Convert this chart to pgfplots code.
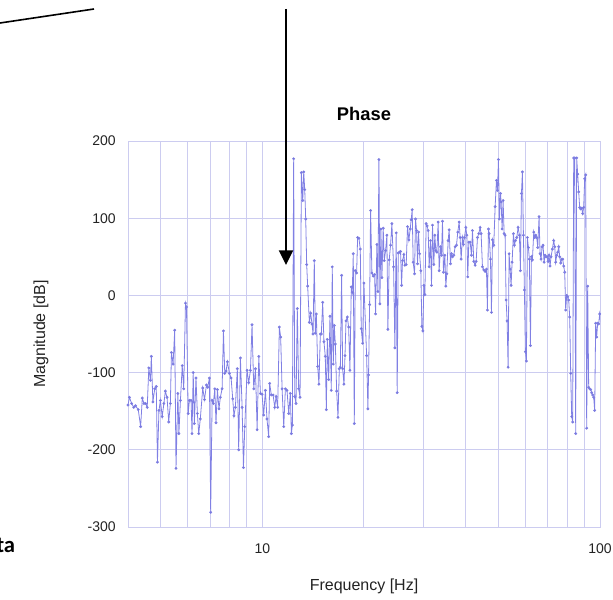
\documentclass[border=0pt]{standalone}
\usepackage{pgfplots}
\pgfplotsset{compat=1.18}
\usepackage{pgfplotstable}
\usepackage{fontspec}
\setmainfont{Liberation Sans}
\newfontfamily\callout{Carlito}
\usetikzlibrary{arrows.meta}
\definecolor{gridc}{RGB}{204,204,240}
\definecolor{linec}{RGB}{128,128,228}
\definecolor{markc}{RGB}{70,70,165}
\definecolor{txt}{RGB}{35,35,35}

\pgfplotstableread{
f v
4.00 -142
4.04 -132
4.10 -140
4.16 -145
4.21 -143
4.29 -148
4.36 -170
4.41 -133
4.46 -140
4.51 -140
4.56 -145
4.61 -94
4.66 -110
4.69 -79
4.74 -138
4.80 -121
4.85 -118
4.89 -216
4.94 -149
4.99 -136
5.05 -157
5.11 -140
5.16 -124
5.22 -132
5.28 -164
5.34 -140
5.38 -74
5.44 -89
5.50 -45
5.55 -224
5.62 -127
5.66 -179
5.72 -136
5.79 -91
5.85 -121
5.92 -10
5.96 -15
6.03 -153
6.08 -136
6.15 -136
6.19 -179
6.24 -100
6.29 -166
6.36 -107
6.42 -153
6.48 -179
6.55 -160
6.66 -120
6.74 -135
6.83 -116
6.89 -119
6.97 -107
7.03 -281
7.10 -136
7.16 -140
7.23 -121
7.29 -165
7.36 -122
7.44 -147
7.51 -132
7.60 -121
7.67 -46
7.74 -101
7.81 -98
7.88 -86
7.99 -101
8.08 -107
8.17 -134
8.24 -156
8.32 -145
8.43 -95
8.51 -200
8.61 -81
8.71 -145
8.79 -223
8.87 -170
9.01 -97
9.11 -113
9.22 -97
9.32 -38
9.43 -121
9.54 -95
9.65 -174
9.76 -79
9.87 -127
9.98 -128
10.09 -155
10.21 -123
10.32 -160
10.44 -183
10.51 -114
10.63 -129
10.76 -129
10.88 -145
10.98 -131
11.10 -145
11.23 -41
11.33 -54
11.44 -121
11.57 -170
11.70 -121
11.83 -123
11.97 -153
12.10 -127
12.19 -179
12.27 -168
12.38 177
12.47 -131
12.58 -140
12.69 -17
12.81 -121
12.93 -132
13.05 159
13.17 123
13.26 160
13.35 137
13.44 99
13.53 40
13.62 12
13.78 -35
13.90 -23
14.03 -37
14.13 -50
14.25 45
14.35 -49
14.45 -24
14.58 -92
14.71 -115
14.85 -50
14.95 -50
15.09 -9
15.22 -60
15.36 -79
15.47 -148
15.57 -57
15.72 -109
15.86 -27
16.00 -123
16.11 37
16.22 -89
16.33 -39
16.45 -63
16.60 -124
16.75 -158
16.90 -95
17.02 -93
17.17 26
17.29 -95
17.45 -115
17.57 -78
17.69 -33
17.85 -28
18.01 -41
18.17 -97
18.34 11
18.46 4
18.59 54
18.72 -166
18.85 32
19.02 29
19.15 75
19.32 74
19.50 60
19.63 -43
19.81 -62
19.99 16
20.36 -78
20.54 -147
20.63 -103
20.78 -12
20.92 110
21.11 29
21.30 25
21.50 27
21.64 -24
21.84 66
21.99 5
22.14 176
22.29 -11
22.44 86
22.60 23
22.80 87
22.96 45
23.17 58
23.38 78
23.54 -44
23.75 46
23.97 65
24.19 93
24.47 37
24.69 -68
24.91 81
25.08 -126
25.26 55
25.49 56
25.66 57
25.84 13
26.01 45
26.25 53
26.43 39
26.67 40
26.91 89
27.16 72
27.41 86
27.59 98
27.78 111
27.97 43
28.23 28
28.42 99
28.62 84
28.81 41
29.01 82
29.21 54
29.47 32
29.67 -40
29.88 -46
30.08 13
30.29 1
30.56 93
30.77 90
30.98 84
31.19 37
31.48 71
31.69 13
31.91 91
32.20 40
32.42 78
32.64 58
32.87 56
33.17 95
33.39 32
33.70 63
33.93 52
34.16 96
34.39 30
34.71 52
34.94 12
35.18 28
35.50 71
35.75 85
36.07 41
36.32 54
36.57 50
36.90 52
37.24 63
37.58 65
37.92 82
38.27 95
38.53 75
38.79 47
39.15 75
39.41 66
39.68 75
40.05 88
40.32 78
40.59 24
40.87 69
41.25 69
41.62 52
41.91 84
42.29 44
42.67 39
42.97 44
43.36 75
43.75 80
44.15 88
44.45 80
44.86 37
45.27 33
45.68 31
46.10 34
46.41 -19
46.73 86
46.95 80
47.38 47
47.70 -22
48.03 72
48.46 65
48.91 115
49.35 149
49.69 136
50.03 176
50.37 99
50.72 132
50.95 121
51.30 86
51.65 123
52.00 80
52.35 78
52.71 -6
53.07 -33
53.44 -93
53.80 54
54.17 34
54.54 13
54.91 43
55.41 80
55.79 65
56.17 71
56.69 75
57.20 88
57.72 78
58.12 32
58.52 132
58.92 160
59.32 78
59.72 7
60.13 -73
60.54 -85
60.96 75
61.37 62
61.79 47
62.22 -65
62.64 50
63.07 46
63.65 82
64.08 75
64.52 78
64.96 75
65.40 62
66.00 102
66.45 54
66.90 47
67.36 63
67.82 65
68.29 43
68.75 52
69.22 50
69.70 50
70.17 44
70.65 52
71.13 38
71.62 50
72.27 60
72.93 71
73.43 63
73.93 43
74.44 52
74.95 56
75.46 63
75.98 50
76.50 42
77.02 47
77.55 47
78.08 38
78.61 30
79.15 -19
79.69 0
80.23 -2
80.78 -6
81.33 -28
81.89 -101
82.45 -157
83.01 -164
83.58 178
84.15 178
84.72 -179
85.30 178
85.89 157
86.47 134
87.07 114
87.66 112
88.26 113
88.86 106
89.47 114
90.08 151
90.70 156
91.32 -172
91.94 12
92.57 -119
93.20 -121
93.84 -122
94.48 -126
95.13 -129
95.78 -132
96.43 -149
97.09 -36
97.75 -54
98.42 -36
99.10 -37
99.77 -24
100.45 -35
}\phasedata

\begin{document}
\begin{tikzpicture}
\useasboundingbox (0pt,0pt) rectangle (459.75pt,-449.25pt);
\begin{axis}[
  at={(96pt,-395.25pt)}, anchor=south west,
  scale only axis, width=354pt, height=289.5pt,
  xmode=log, xmin=4, xmax=100, ymin=-300, ymax=200,
  xtick={10,100}, xticklabels={10,100},
  minor xtick={5,6,7,8,9,20,30,40,50,60,70,80,90},
  ytick={-300,-200,-100,0,100,200},
  yticklabels={-300,-200,-100,0,100,200},
  grid=both,
  major grid style={draw=gridc, line width=0.75pt},
  minor grid style={draw=gridc, line width=0.75pt},
  axis line style={draw=gridc, line width=0.75pt},
  major tick length=0pt, minor tick length=0pt,
  tick style={draw=none},
  ticklabel style={font=\fontsize{10.5}{12}\selectfont, text=txt},
  yticklabel style={anchor=east, inner sep=0pt, xshift=-9pt},
  xticklabel style={anchor=north, inner sep=0pt, yshift=-12pt},
  every axis title shift=0pt,
  title={Phase},
  title style={at={(0.5,1)}, anchor=base, yshift=15.75pt, inner sep=0pt,
    font=\bfseries\fontsize{13.75}{15}\selectfont},
  xlabel={Frequency [Hz]},
  xlabel style={at={(0.5,0)}, anchor=base, yshift=-47.25pt, inner sep=0pt,
    font=\fontsize{12}{14}\selectfont, text=txt},
  ylabel={Magnitude [dB]},
  ylabel style={at={(0,0.5)}, anchor=base, yshift=62.25pt, inner sep=0pt,
    font=\fontsize{12}{14}\selectfont, text=txt},
]
\addplot[draw=linec, line width=0.6pt, mark=*, mark size=0.75pt,
  mark options={draw=none, fill=markc}] table[x=f, y=v] {\phasedata};
\end{axis}
\draw[line width=1.2pt] (0pt,-17.25pt) -- (70.5pt,-6.75pt);
\draw[line width=1.5pt, -{Triangle[length=11pt, width=10.5pt]}] (214.5pt,-6.75pt) -- (214.5pt,-198.75pt);
\node[anchor=base west, inner sep=0pt, font=\callout\bfseries\fontsize{17}{17}\selectfont] at (-3pt,-414pt) {ta};
\end{tikzpicture}
\end{document}
